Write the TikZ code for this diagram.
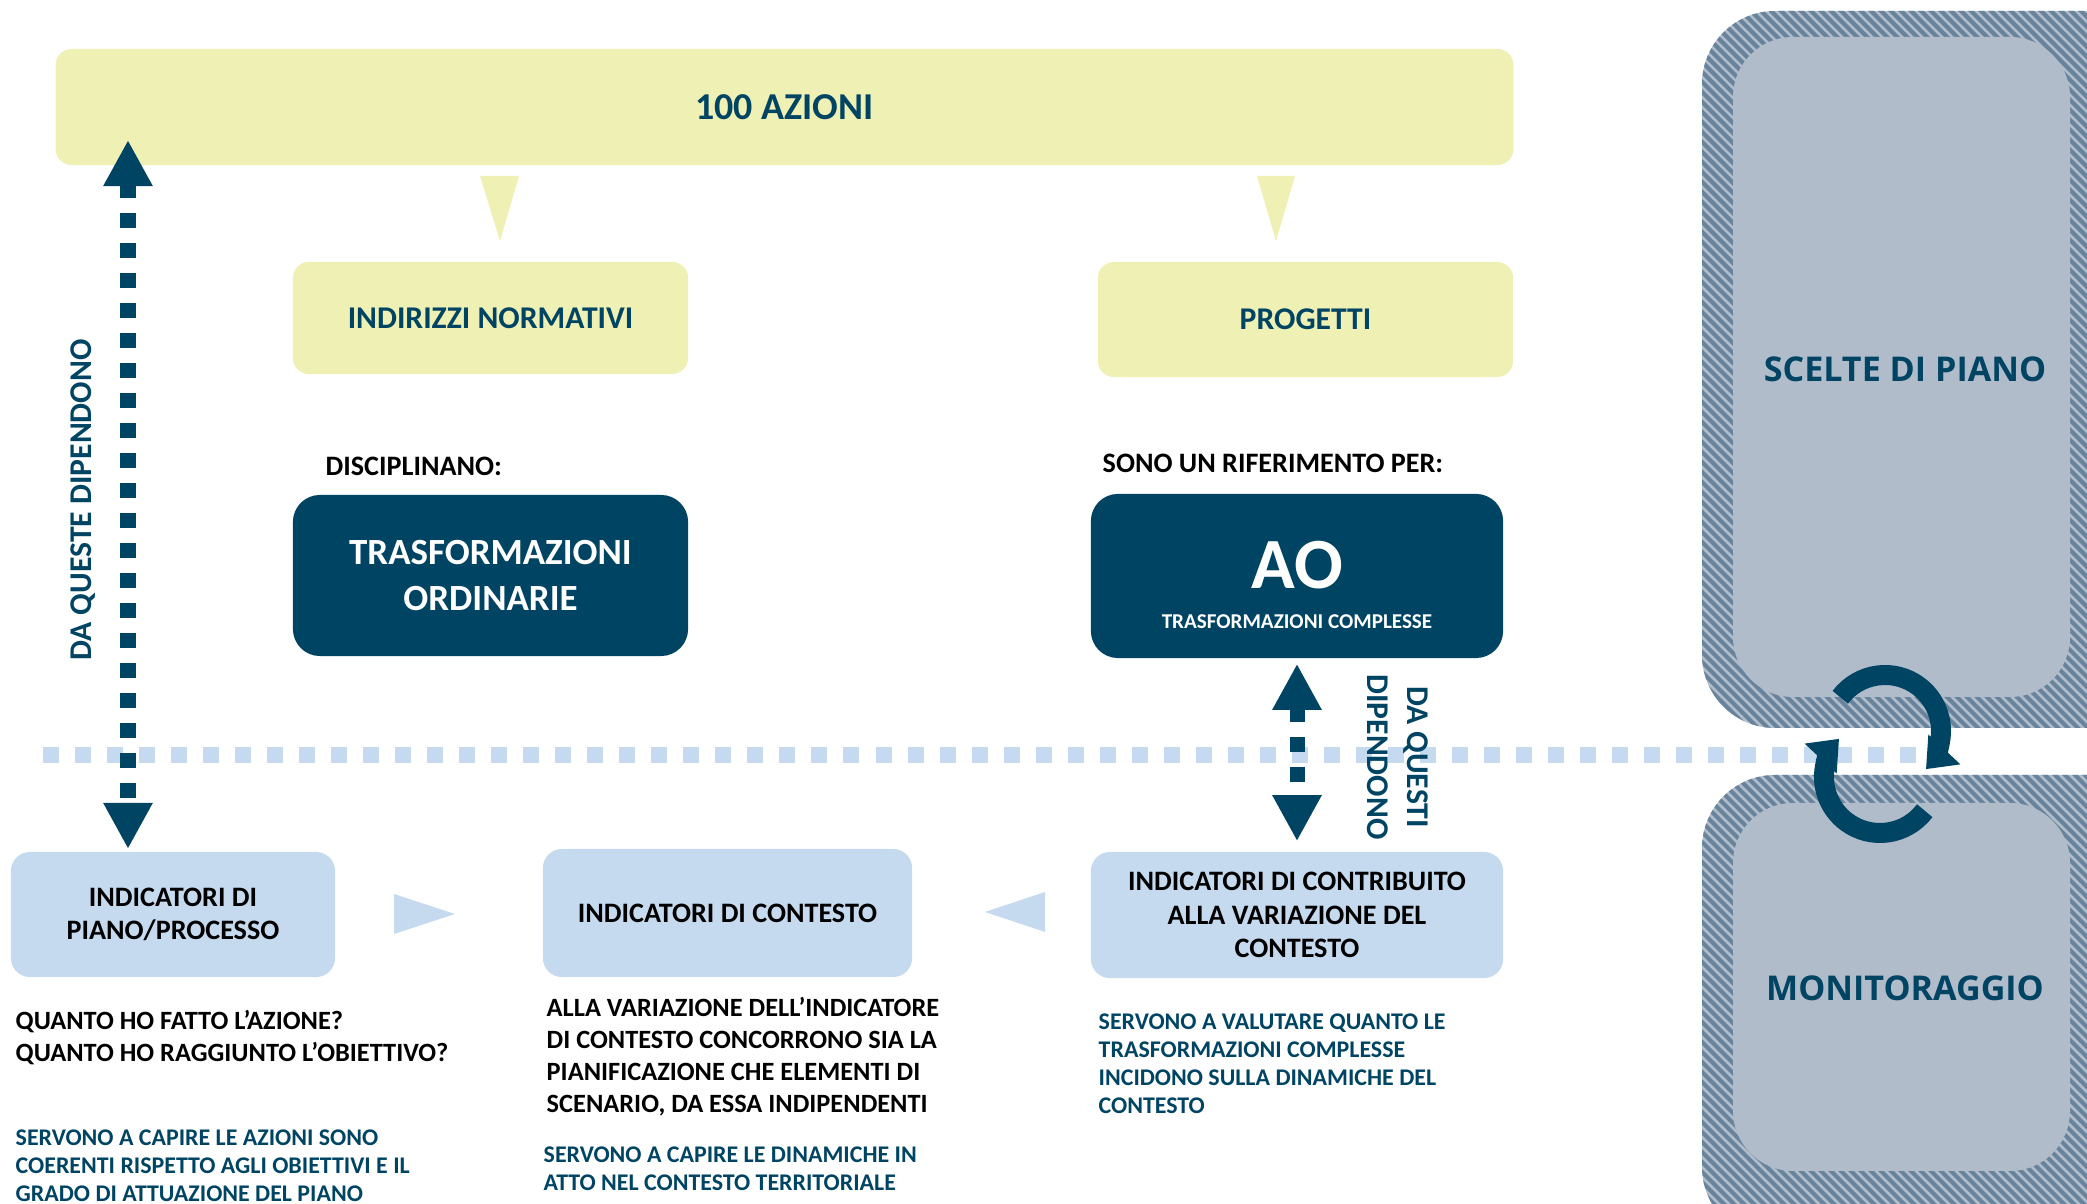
\documentclass[tikz,border=0pt]{standalone}
\usepackage{fontspec}
\setmainfont{Carlito}
\newfontfamily\panelfont{Open Sans}
\usetikzlibrary{arrows.meta}
\usetikzlibrary{positioning}
\definecolor{dkblue}{RGB}{0,68,100}
\definecolor{ltyellow}{RGB}{239,240,180}
\definecolor{ltblue}{RGB}{197,218,238}
\definecolor{hatchdark}{RGB}{104,131,156}
\definecolor{hatchlight}{RGB}{177,188,203}

\begin{document}
\begin{tikzpicture}[x=0.01cm, y=-0.01cm,
  yellowbox/.style={fill=ltyellow, rounded corners=0.16cm, text=dkblue, inner sep=0pt, font=\bfseries\fontsize{9}{11}\selectfont},
  darkbox/.style={fill=dkblue, rounded corners=0.27cm, text=white, inner sep=0pt, align=center},
  bluebox/.style={fill=ltblue, rounded corners=0.19cm, inner sep=0pt, align=center, font=\bfseries\fontsize{8}{9.5}\selectfont},
  note/.style={anchor=west, align=left, inner sep=0pt, font=\bfseries\fontsize{7.5}{9.1}\selectfont},
  bluenote/.style={anchor=west, align=left, inner sep=0pt, text=dkblue, font=\bfseries\fontsize{6.8}{8}\selectfont},
  deparrow/.style={draw=dkblue, line width=0.15cm, dash pattern=on 0.15cm off 0.15cm,
    {Triangle[length=0.46cm,width=0.46cm]}-{Triangle[length=0.46cm,width=0.46cm]}},
  hatchline/.style={hatchdark, line width=0.042cm},
  cyclearrow/.style={dkblue, line width=0.2cm, -{Triangle[length=0.27cm,width=0.42cm]}},
  ]
\useasboundingbox (0,0) rectangle (2087,1204);
\clip (0,0) rectangle (2087,1204);

% pannelli a destra
\begin{scope}
  \clip[rounded corners=0.73cm] (1702,11) rectangle (2160,728) (1702,775) rectangle (2160,1240);
  \fill[hatchlight] (1700,0) rectangle (2087,1204);
  \foreach \k in {480,490,...,2100}
    \draw[hatchline] (\k,0) -- ++(1210,1210);
\end{scope}
\fill[hatchlight, rounded corners=0.6cm] (1733,37) rectangle (2070,697);
\fill[hatchlight, rounded corners=0.6cm] (1733,803) rectangle (2070,1171);
\node[text=dkblue, font=\panelfont\bfseries\fontsize{9.7}{12}\selectfont] (scelte) at (1905,369) {SCELTE DI PIANO};
\node[text=dkblue, font=\panelfont\bfseries\fontsize{9.7}{12}\selectfont] (monitoraggio) at (1905,988) {MONITORAGGIO};

% azioni
\node[yellowbox, minimum width=14.57cm, minimum height=1.16cm, font=\bfseries\fontsize{10.8}{13}\selectfont] (azioni) at (784.5,107) {100 AZIONI};
\node[yellowbox, minimum width=3.95cm, minimum height=1.12cm] (indirizzi) at (490.5,318) {INDIRIZZI NORMATIVI};
\node[yellowbox, minimum width=4.15cm, minimum height=1.15cm] (progetti) at (1305.5,319.5) {PROGETTI};
\fill[ltyellow] (480,176) -- (519,176) -- (500,241) -- cycle;
\fill[ltyellow] (1257,176) -- (1295,176) -- (1276,241) -- cycle;

\node[note, font=\bfseries\fontsize{8}{9.6}\selectfont] (disciplinano) at (325,466) {DISCIPLINANO:};
\node[note, font=\bfseries\fontsize{8}{9.6}\selectfont] (riferimento) at (1102,463) {SONO UN RIFERIMENTO PER:};

\node[darkbox, minimum width=3.95cm, minimum height=1.61cm, font=\bfseries\fontsize{10.5}{12.9}\selectfont] (ordinarie) at (490.5,575.5) {TRASFORMAZIONI\\ORDINARIE};
\node[darkbox, minimum width=4.12cm, minimum height=1.64cm] (ao) at (1297,576) {};
\node[text=white, font=\bfseries\fontsize{20.5}{24}\selectfont] (aotitle) at (1297,565) {AO};
\node[text=white, font=\bfseries\fontsize{6}{7}\selectfont] (aosub) at (1297,622) {TRASFORMAZIONI COMPLESSE};

% indicatori
\node[bluebox, minimum width=3.24cm, minimum height=1.25cm] (piano) at (173,914.5) {INDICATORI DI\\PIANO/PROCESSO};
\node[bluebox, minimum width=3.69cm, minimum height=1.28cm] (contesto) at (727.5,913) {INDICATORI DI CONTESTO};
\node[bluebox, minimum width=4.12cm, minimum height=1.26cm] (contributo) at (1297,915) {INDICATORI DI CONTRIBUITO\\ALLA VARIAZIONE DEL\\CONTESTO};
\fill[ltblue] (394,894) -- (455,914) -- (394,934) -- cycle;
\fill[ltblue] (1045,892) -- (985,912) -- (1045,932) -- cycle;

% linea di separazione
\coordinate (sepL) at (43,755);
\coordinate (sepR) at (1923,755);
\draw[ltblue, line width=0.16cm, dash pattern=on 0.16cm off 0.16cm] (sepL) -- (sepR);

% dipendenze
\coordinate (dqA) at (128,140);
\coordinate (dqB) at (128,849);
\draw[deparrow] (dqA) -- (dqB);
\node[rotate=90, text=dkblue, font=\bfseries\fontsize{9}{11}\selectfont] (dqlabel) at (83,500) {DA QUESTE DIPENDONO};
\draw[deparrow, shorten <=0.05cm, shorten >=0.1cm] (ao.south) -- (contributo.north);
\node[rotate=-90, align=center, text=dkblue, font=\bfseries\fontsize{9}{11.4}\selectfont] (dqlabelB) at (1398,757) {DA QUESTI\\DIPENDONO};

% testi
\node[note] (domande) at (15,1038) {QUANTO HO FATTO L'AZIONE?\\QUANTO HO RAGGIUNTO L'OBIETTIVO?};
\node[bluenote] (servonoA) at (15,1166) {SERVONO A CAPIRE LE AZIONI SONO\\COERENTI RISPETTO AGLI OBIETTIVI E IL\\GRADO DI ATTUAZIONE DEL PIANO};
\node[note] (variazione) at (546,1057) {ALLA VARIAZIONE DELL'INDICATORE\\DI CONTESTO CONCORRONO SIA LA\\PIANIFICAZIONE CHE ELEMENTI DI\\SCENARIO, DA ESSA INDIPENDENTI};
\node[bluenote] (servonoB) at (543,1169) {SERVONO A CAPIRE LE DINAMICHE IN\\ATTO NEL CONTESTO TERRITORIALE};
\node[bluenote] (servonoC) at (1098,1064) {SERVONO A VALUTARE QUANTO LE\\TRASFORMAZIONI COMPLESSE\\INCIDONO SULLA DINAMICHE DEL\\CONTESTO};

% ciclo
\draw[cyclearrow] (1885,731) ++(-143:56) arc[start angle=-143, end angle=43, radius=56];
\draw[cyclearrow] (1880,777) ++(37:56) arc[start angle=37, end angle=223, radius=56];
\end{tikzpicture}
\end{document}
